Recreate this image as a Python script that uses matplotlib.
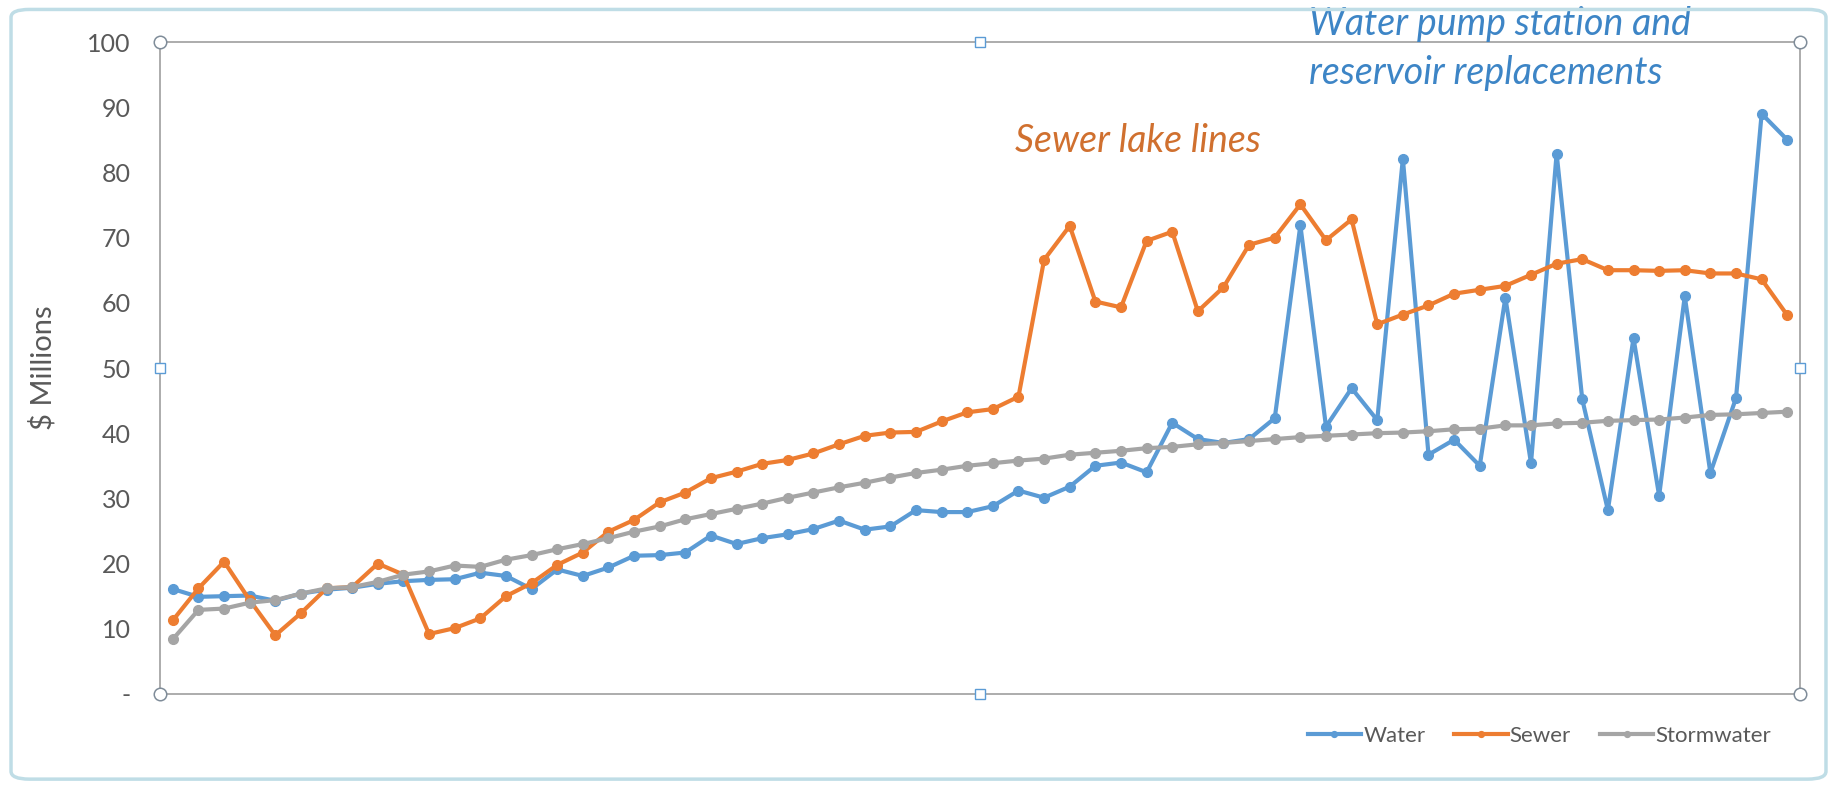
import numpy as np
import matplotlib.pyplot as plt
from matplotlib.patches import FancyBboxPatch

plt.rcParams['font.family'] = ['Lato', 'DejaVu Sans']

# valores ($ milhoes), 64 periodos
water = [16.1, 14.9, 15.0, 15.1, 14.3, 15.4, 16.0, 16.3, 16.9, 17.3,
         17.5, 17.6, 18.6, 18.1, 16.1, 19.1, 18.1, 19.4, 21.2, 21.3,
         21.7, 24.3, 23.0, 23.9, 24.5, 25.3, 26.6, 25.2, 25.7, 28.2,
         27.9, 27.9, 28.8, 31.2, 30.1, 31.8, 35.0, 35.5, 34.0, 41.6,
         39.1, 38.5, 39.1, 42.3, 71.9, 41.0, 46.9, 42.0, 82.1, 36.7,
         39.0, 35.0, 60.8, 35.4, 82.9, 45.2, 28.2, 54.6, 30.4, 61.0,
         33.9, 45.4, 89.0, 85.0]
sewer = [11.3, 16.2, 20.3, 14.4, 9.0, 12.4, 16.2, 16.4, 20.0, 18.3,
         9.2, 10.1, 11.6, 15.0, 17.0, 19.8, 21.7, 24.9, 26.7, 29.4,
         30.9, 33.1, 34.1, 35.3, 35.9, 36.9, 38.3, 39.6, 40.1, 40.2,
         41.8, 43.2, 43.7, 45.6, 66.6, 71.8, 60.2, 59.3, 69.5, 70.9,
         58.7, 62.4, 68.9, 70.0, 75.1, 69.6, 72.8, 56.7, 58.2, 59.6,
         61.4, 62.0, 62.6, 64.3, 66.0, 66.7, 65.0, 65.0, 64.9, 65.0,
         64.5, 64.5, 63.6, 58.1]
storm = [8.4, 12.9, 13.1, 14.0, 14.4, 15.4, 16.2, 16.4, 17.2, 18.3,
         18.8, 19.7, 19.5, 20.6, 21.3, 22.2, 23.0, 23.9, 24.9, 25.7,
         26.8, 27.6, 28.4, 29.2, 30.1, 30.9, 31.7, 32.4, 33.2, 33.9,
         34.4, 35.0, 35.4, 35.8, 36.1, 36.7, 37.0, 37.3, 37.7, 37.9,
         38.3, 38.5, 38.8, 39.1, 39.4, 39.6, 39.8, 40.0, 40.1, 40.3,
         40.6, 40.7, 41.2, 41.2, 41.5, 41.6, 41.9, 42.0, 42.1, 42.4,
         42.8, 42.9, 43.1, 43.3]
series_names = ['Water', 'Sewer', 'Stormwater']
yticks = [0, 10, 20, 30, 40, 50, 60, 70, 80, 90, 100]
ytick_labels = ['-', '10', '20', '30', '40', '50', '60', '70', '80', '90', '100']

cores = ['#5B9BD5', '#ED7D31', '#A5A5A5']
cinza_txt = '#595959'

fig = plt.figure(figsize=(18.37, 7.87), dpi=100)
ax = fig.add_axes([0.0871, 0.1182, 0.8928, 0.8284])

x = np.arange(len(water))
for dados, nome, cor in zip([water, sewer, storm], series_names, cores):
    ax.plot(x, dados, color=cor, lw=3, marker='o', ms=7, label=nome)

ax.set_xlim(-0.5, len(water) - 0.5)
ax.set_ylim(0, 100)
ax.set_xticks([])
ax.set_yticks(yticks)
ax.set_yticklabels(ytick_labels)
ax.tick_params(axis='y', length=0, pad=21, labelsize=18, labelcolor=cinza_txt)
ax.set_ylabel('$ Millions', fontsize=21, color=cinza_txt, labelpad=22)
for s in ax.spines.values():
    s.set_color('#A6A6A6')
    s.set_linewidth(1.3)

# alcas de selecao do Excel (area de plotagem)
for px, py in [(0, 0), (1, 0), (0, 1), (1, 1)]:
    ax.plot(px, py, 'o', ms=9, mfc='white', mec='#7F8C99', mew=1.1,
            transform=ax.transAxes, clip_on=False, zorder=5)
for px, py in [(0.5, 0), (0.5, 1), (0, 0.5), (1, 0.5)]:
    ax.plot(px, py, 's', ms=7, mfc='white', mec='#5B9BD5', mew=1.0,
            transform=ax.transAxes, clip_on=False, zorder=5)

ax.text(1015, 787 - 141, 'Sewer lake lines', transform=None, fontsize=27,
        style='italic', color='#D0702F', va='center', ha='left')
ax.text(1309, 787 - 24, 'Water pump station and', transform=None,
        fontsize=27, style='italic', color='#3D85C6', va='center', ha='left')
ax.text(1309, 787 - 73, 'reservoir replacements', transform=None,
        fontsize=27, style='italic', color='#3D85C6', va='center', ha='left')

leg = fig.legend(loc='center', bbox_to_anchor=(0.838, 0.065), ncol=3,
                 frameon=False, fontsize=16, handlelength=2.4,
                 handletextpad=0.1, columnspacing=1.3, markerscale=0.6)
for t in leg.get_texts():
    t.set_color(cinza_txt)

# borda da area do grafico
borda = FancyBboxPatch((0.006, 0.01), 0.988, 0.978, transform=fig.transFigure,
                       boxstyle='round,pad=0,rounding_size=0.01',
                       fill=False, ec='#BFDDE6', lw=2.5)
fig.patches.append(borda)

fig.savefig('out.png', dpi=100)
